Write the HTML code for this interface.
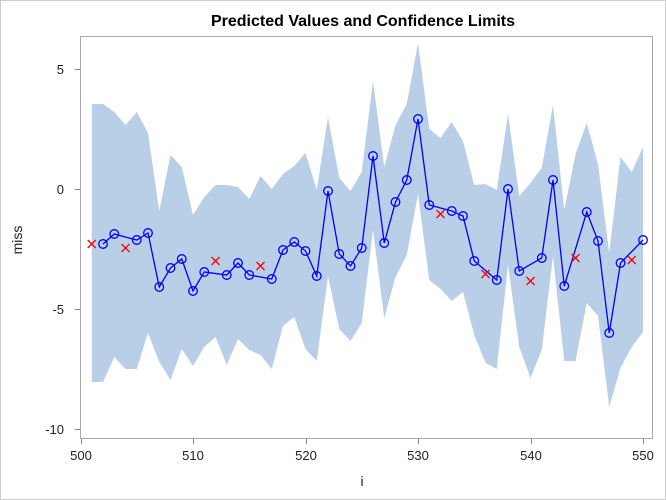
<!DOCTYPE html>
<html><head><meta charset="utf-8"><style>
body{margin:0;background:#fff}
svg{display:block;font-family:"Liberation Sans",sans-serif}
</style></head><body>
<svg id="s" width="666" height="500" viewBox="0 0 666 500">
<rect x="0.5" y="0.5" width="665" height="499" fill="#fff" stroke="#ccc"/>
<text x="363" y="26" text-anchor="middle" font-size="16" font-weight="bold" fill="#000">Predicted Values and Confidence Limits</text>
<g id="band"></g>
<rect x="80.5" y="36.5" width="572" height="402" fill="none" stroke="#aaa"/>
<g id="ser"></g>
<g font-size="13" fill="#222" text-anchor="end">
<text x="64" y="74">5</text>
<text x="64" y="194">0</text>
<text x="64" y="314">-5</text>
<text x="64" y="434">-10</text>
</g>
<g stroke="#888">
<line x1="75" x2="80" y1="69.5" y2="69.5"/><line x1="75" x2="80" y1="189.5" y2="189.5"/>
<line x1="75" x2="80" y1="309.5" y2="309.5"/><line x1="75" x2="80" y1="429.5" y2="429.5"/>
<line x1="81.5" x2="81.5" y1="439" y2="444"/><line x1="193.5" x2="193.5" y1="439" y2="444"/>
<line x1="306.5" x2="306.5" y1="439" y2="444"/><line x1="418.5" x2="418.5" y1="439" y2="444"/>
<line x1="531.5" x2="531.5" y1="439" y2="444"/><line x1="643.5" x2="643.5" y1="439" y2="444"/>
</g>
<g font-size="13" fill="#222" text-anchor="middle">
<text x="81" y="460">500</text><text x="193" y="460">510</text><text x="306" y="460">520</text>
<text x="418" y="460">530</text><text x="531" y="460">540</text><text x="643" y="460">550</text>
</g>
<text x="362" y="486" font-size="14" text-anchor="middle" fill="#222">i</text>
<text transform="translate(22,240) rotate(-90)" font-size="14" text-anchor="middle" fill="#222">miss</text>
</svg>
<script>
var X=function(i){return 193+(i-510)*11.25};
var up=[104,104,112,125,112,133,211,155,167,215,197,185,185,187,199,176,189,174,166,153,190,117,178,191,172,81,167,125,104,43,129,138,122,141,185,184,190,114,196,183,168,105,210,154,123,164,253,157,172,147];
var lo=[382,382,357,369,369,333,362,380,349,366,347,337,365,339,350,355,369,326,317,349,361,276,329,341,323,230,318,277,255,194,280,289,301,292,335,363,369,265,347,378,350,256,361,361,303,316,407,368,347,332];
var p=[];for(var k=0;k<50;k++)p.push(X(501+k)+","+up[k]);
for(var k=49;k>=0;k--)p.push(X(501+k)+","+lo[k]);
var ns="http://www.w3.org/2000/svg";
var poly=document.createElementNS(ns,"polygon");poly.setAttribute("points",p.join(" "));poly.setAttribute("fill","#b9cfe7");
document.getElementById("band").appendChild(poly);
var c=[[502,244],[503,234],[505,240],[506,233],[507,287],[508,268],[509,259],[510,291],[511,272],[513,275],[514,263],[515,275],[517,279],[518,250],[519,242],[520,251],[521,276],[522,191],[523,254],[524,266],[525,248],[526,156],[527,243],[528,202],[529,180],[530,119],[531,205],[533,211],[534,216],[535,261],[537,280],[538,189],[539,271],[541,258],[542,180],[543,286],[545,212],[546,241],[547,333],[548,263],[550,240]];
var x=[[501,244],[504,248],[512,261],[516,266],[532,214],[536,274],[540,281],[544,258],[549,260]];
var h='<polyline fill="none" stroke="#0000ff" stroke-width="1.3" points="'+c.map(function(a){return X(a[0])+","+a[1]}).join(" ")+'"/>';
c.forEach(function(a){h+='<circle cx="'+X(a[0])+'" cy="'+a[1]+'" r="4.3" fill="none" stroke="#0000ff" stroke-width="1.3"/>'});
x.forEach(function(a){var u=X(a[0]),v=a[1];h+='<path d="M'+(u-4)+','+(v-4)+'L'+(u+4)+','+(v+4)+'M'+(u-4)+','+(v+4)+'L'+(u+4)+','+(v-4)+'" stroke="#ff0000" stroke-width="1.3"/>'});
document.getElementById("ser").innerHTML=h;
</script>
</body></html>
